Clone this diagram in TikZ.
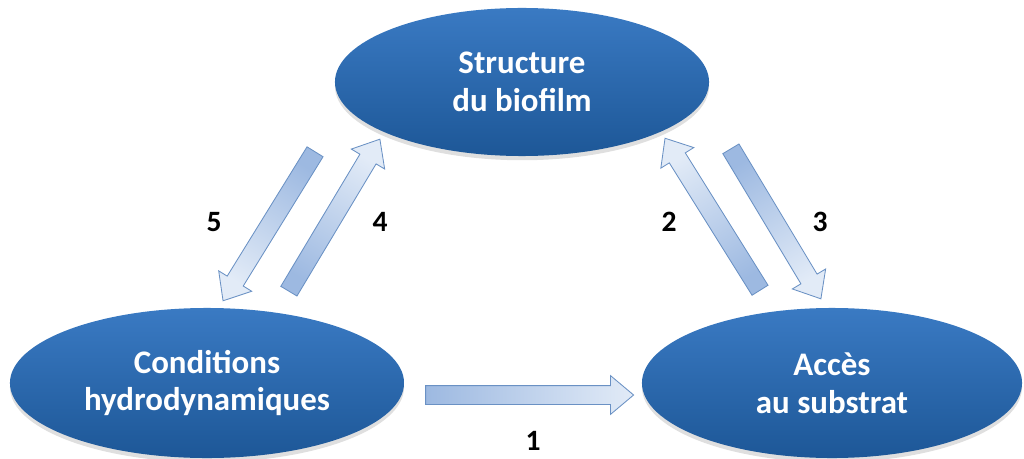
\documentclass[tikz,border=0pt]{standalone}
\usepackage{fontspec}
\setmainfont{Carlito}
\usetikzlibrary{shapes.geometric, shapes.arrows, shadows, calc}

\definecolor{ovaltop}{HTML}{3A7AC3}
\definecolor{ovalbottom}{HTML}{1D5797}
\definecolor{flowdark}{HTML}{9DB9E1}
\definecolor{flowlight}{HTML}{E2EBF7}
\definecolor{flowline}{HTML}{6A91C4}

\tikzset{
    topic/.style={ellipse, inner sep=0pt, top color=ovaltop, bottom color=ovalbottom, text=white, align=center,
        font=\fontsize{23.4}{27}\selectfont\bfseries,
        drop shadow={opacity=0.25, shadow xshift=0pt, shadow yshift=-3pt}},
    flow/.style={single arrow, inner xsep=0pt, inner ysep=0.225cm, minimum width=0.95cm,
        single arrow head extend=0.25cm, single arrow tip angle=80,
        top color=flowlight, bottom color=flowdark, draw=flowline, line width=0.6pt},
    num/.style={font=\fontsize{21}{24}\selectfont\bfseries}
}

\newcommand{\flowarrow}[2]{%
    \path let \p1=($(#2)-(#1)$), \n1={atan2(\y1,\x1)}, \n2={veclen(\x1,\y1)}, \n3={\n1-90} in
        node [flow, minimum height=\n2, rotate=\n1, shading angle=\n3] at ($(#1)!0.5!(#2)$) {};}

\begin{document}
\begin{tikzpicture}[x=0.025cm, y=-0.025cm]
    \useasboundingbox (0,0) rectangle (1024,459);
    \node [topic, minimum width=9.35cm, minimum height=3.7cm] (biofilm) at (522,82) {Structure\\du biofilm};
    \node [topic, minimum width=9.85cm, minimum height=3.75cm] (hydro) at (207,383) {Conditions\\hydrodynamiques};
    \node [topic, minimum width=9.5cm, minimum height=3.75cm] (substrat) at (832,383) {Accès\\au substrat};

    \coordinate (t1) at (420,395);
    \coordinate (h1) at (628,395);
    \coordinate (t2) at (763,295);
    \coordinate (h2) at (668,143);
    \coordinate (t3) at (728,144);
    \coordinate (h3) at (818,294);
    \coordinate (t4) at (286,296);
    \coordinate (h4) at (377,144);
    \coordinate (t5) at (318,147);
    \coordinate (h5) at (226,296);
    \flowarrow{t1}{h1}
    \flowarrow{t2}{h2}
    \flowarrow{t3}{h3}
    \flowarrow{t4}{h4}
    \flowarrow{t5}{h5}

    \node [num] (n1) at (533,441) {1};
    \node [num] (n2) at (669,222) {2};
    \node [num] (n3) at (820,222) {3};
    \node [num] (n4) at (380,222) {4};
    \node [num] (n5) at (214,222) {5};
\end{tikzpicture}
\end{document}
